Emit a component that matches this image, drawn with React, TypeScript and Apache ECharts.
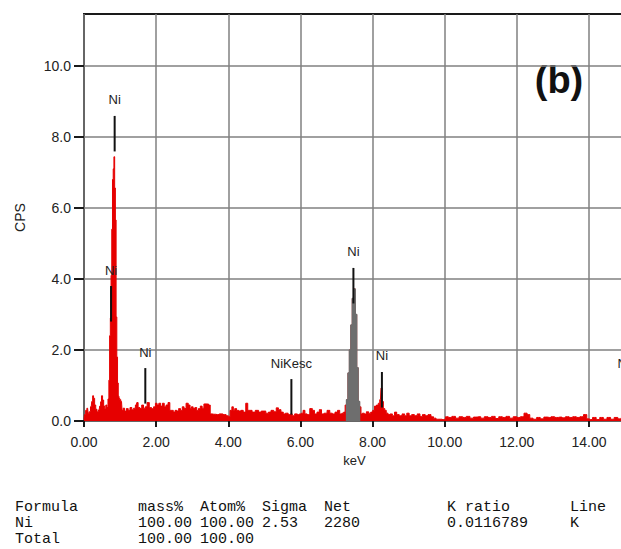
import React, { useEffect, useRef } from "react";
import * as echarts from "echarts";

// EDS spectrum of a Ni sample: energy (keV) vs counts per second, per region
const lowBackground: [number, number][] = [
  [0.0, 0.04], [0.03, 0.18], [0.06, 0.3], [0.1, 0.36], [0.13, 0.22], [0.16, 0.26],
  [0.2, 0.4], [0.23, 0.55], [0.25, 0.71], [0.28, 0.64], [0.31, 0.45], [0.34, 0.33],
  [0.38, 0.26], [0.42, 0.31], [0.45, 0.42], [0.47, 0.54], [0.5, 0.71], [0.53, 0.59],
  [0.56, 0.42], [0.59, 0.34], [0.62, 0.45], [0.65, 0.38],
];

const lPeak: [number, number][] = [
  [0.68, 0.62], [0.7, 1.15], [0.72, 2.4], [0.74, 2.9], [0.76, 4.1], [0.78, 5.4],
  [0.8, 6.8], [0.82, 7.1], [0.84, 7.44], [0.86, 6.56], [0.88, 5.66], [0.9, 2.93],
  [0.92, 1.8], [0.94, 1.07], [0.96, 0.7], [0.98, 0.64], [1.0, 0.6],
];

const midBackground: [number, number][] = [
  [1.04, 0.55], [1.07, 0.3], [1.1, 0.36], [1.15, 0.28], [1.2, 0.35], [1.25, 0.3],
  [1.3, 0.38], [1.35, 0.32], [1.4, 0.36], [1.45, 0.45], [1.48, 0.52], [1.52, 0.38],
  [1.58, 0.35], [1.62, 0.45], [1.68, 0.36], [1.72, 0.4], [1.78, 0.52], [1.84, 0.38],
  [1.9, 0.35], [1.96, 0.4], [2.0, 0.5], [2.05, 0.45], [2.1, 0.5], [2.15, 0.42],
  [2.2, 0.5], [2.25, 0.4], [2.3, 0.45], [2.36, 0.52], [2.4, 0.3], [2.45, 0.3],
  [2.5, 0.25], [2.55, 0.3], [2.6, 0.28], [2.65, 0.35], [2.7, 0.3], [2.75, 0.4],
  [2.8, 0.35], [2.86, 0.5], [2.92, 0.45], [2.96, 0.36], [3.0, 0.4], [3.05, 0.35],
  [3.1, 0.38], [3.15, 0.3], [3.2, 0.35], [3.25, 0.42], [3.3, 0.36], [3.35, 0.48],
  [3.42, 0.48], [3.48, 0.45], [3.52, 0.2], [3.6, 0.19], [3.7, 0.18], [3.8, 0.2],
  [3.9, 0.18], [3.98, 0.15], [4.02, 0.12], [4.08, 0.3], [4.12, 0.4], [4.16, 0.3],
  [4.2, 0.35], [4.26, 0.3], [4.32, 0.28], [4.38, 0.3], [4.45, 0.25], [4.52, 0.5],
  [4.56, 0.3], [4.62, 0.3], [4.7, 0.25], [4.8, 0.3], [4.88, 0.25], [4.95, 0.28],
  [5.0, 0.28], [5.08, 0.22], [5.15, 0.25], [5.22, 0.3], [5.3, 0.26], [5.36, 0.37],
  [5.42, 0.32], [5.5, 0.25], [5.55, 0.2], [5.62, 0.22], [5.7, 0.18], [5.75, 0.2],
  [5.8, 0.15], [5.88, 0.2], [5.95, 0.18], [6.0, 0.2], [6.05, 0.22], [6.1, 0.3],
  [6.15, 0.2], [6.22, 0.18], [6.3, 0.35], [6.36, 0.3], [6.42, 0.2], [6.5, 0.25],
  [6.55, 0.32], [6.62, 0.2], [6.7, 0.22], [6.78, 0.3], [6.85, 0.22], [6.92, 0.2],
  [7.0, 0.25], [7.06, 0.3], [7.12, 0.2], [7.18, 0.22], [7.22, 0.25],
];

// Ni K-alpha window (highlighted region of interest)
const kAlphaPeak: [number, number][] = [
  [7.26, 0.45], [7.3, 0.6], [7.34, 1.35], [7.38, 2.0], [7.42, 2.7], [7.46, 3.45],
  [7.5, 3.72], [7.54, 3.0], [7.58, 1.5], [7.62, 0.55], [7.66, 0.4],
];

const kBetaRegion: [number, number][] = [
  [7.7, 0.2], [7.74, 0.22], [7.8, 0.2], [7.86, 0.26], [7.92, 0.22], [7.98, 0.25],
  [8.03, 0.3], [8.08, 0.42], [8.14, 0.45], [8.18, 0.5], [8.22, 0.6], [8.25, 0.93],
  [8.28, 0.55], [8.32, 0.35], [8.36, 0.3], [8.4, 0.22], [8.46, 0.18], [8.52, 0.2],
  [8.58, 0.15],
];

const tailBackground: [number, number][] = [
  [8.64, 0.25], [8.7, 0.18], [8.78, 0.15], [8.86, 0.2], [8.92, 0.15], [8.98, 0.22],
  [9.05, 0.15], [9.12, 0.18], [9.2, 0.15], [9.28, 0.2], [9.35, 0.13], [9.42, 0.18],
  [9.5, 0.15], [9.58, 0.18], [9.66, 0.12], [9.72, 0.08], [9.8, 0.05], [9.88, 0.05],
  [9.95, 0.04], [10.0, 0.05], [10.05, 0.12], [10.15, 0.1], [10.25, 0.13], [10.35, 0.08],
  [10.45, 0.12], [10.55, 0.1], [10.65, 0.13], [10.75, 0.08], [10.85, 0.11], [10.95, 0.12],
  [11.05, 0.08], [11.15, 0.12], [11.25, 0.1], [11.35, 0.13], [11.45, 0.07], [11.55, 0.12],
  [11.65, 0.1], [11.75, 0.13], [11.85, 0.08], [11.95, 0.12], [12.05, 0.1], [12.15, 0.12],
  [12.25, 0.22], [12.32, 0.18], [12.4, 0.08], [12.5, 0.05], [12.6, 0.1], [12.7, 0.06],
  [12.8, 0.11], [12.9, 0.1], [13.0, 0.12], [13.1, 0.1], [13.2, 0.11], [13.3, 0.09],
  [13.4, 0.12], [13.5, 0.1], [13.6, 0.12], [13.7, 0.1], [13.8, 0.12], [13.9, 0.18],
  [13.98, 0.06], [14.05, 0.04], [14.15, 0.1], [14.25, 0.04], [14.35, 0.1], [14.45, 0.05],
  [14.55, 0.1], [14.65, 0.05], [14.75, 0.1], [14.85, 0.06], [14.95, 0.1], [15.0, 0.05],
];

// Line identification markers
const markerEnergies = [0.75, 0.85, 1.7, 5.75, 7.47, 8.26, 14.96];
const markerTops = [3.8, 8.59, 1.49, 1.18, 4.31, 1.38, 1.18];
const markerLabels = ["Ni", "Ni", "Ni", "NiKesc", "Ni", "Ni", "Ni"];

// Axis ticks
const xTicks = [0, 2, 4, 6, 8, 10, 12, 14];
const yTicks = [0, 2, 4, 6, 8, 10];

// Quantification table
const tableHeader = ["Formula", "mass%", "Atom%", "Sigma", "Net", "K ratio", "Line"];
const niRow = ["Ni", "100.00", "100.00", "2.53", "2280", "0.0116789", "K"];
const totalRow = ["Total", "100.00", "100.00"];

const MARKER_LENGTH = 1.0;
const tableColumnX = [15, 138, 200, 262, 324, 447, 570];
const tableRowY = [507, 523, 539];

// The plot frame runs slightly past the visible page on the right
const CHART_WIDTH = 632;
const PLOT_RIGHT_EDGE = 625;

export default function App() {
  const ref = useRef<HTMLDivElement>(null);

  useEffect(() => {
    if (!ref.current) return;
    const chart = echarts.init(ref.current, null, { renderer: "svg" });

    const spectrum = [
      ...lowBackground,
      ...lPeak,
      ...midBackground,
      ...kAlphaPeak,
      ...kBetaRegion,
      ...tailBackground,
    ];
    const markers = markerEnergies.map((e, i) => [e, markerTops[i]]);

    const tableTexts: any[] = [];
    [tableHeader, niRow, totalRow].forEach((row, r) => {
      row.forEach((cell, c) => {
        tableTexts.push({
          type: "text",
          x: tableColumnX[c],
          y: tableRowY[r],
          style: {
            text: cell,
            fill: "#111",
            fontFamily: '"Liberation Mono", "Courier New", monospace',
            fontSize: 15,
            lineHeight: 15,
            align: "left",
            verticalAlign: "middle",
          },
        });
      });
    });

    const axisFont = { fontFamily: "Arial, 'Liberation Sans', sans-serif", fontSize: 14, color: "#222" };

    chart.setOption({
      animation: false,
      backgroundColor: "#ffffff",
      grid: {
        left: 84,
        top: 14,
        right: CHART_WIDTH - PLOT_RIGHT_EDGE,
        bottom: 128,
        show: true,
        borderColor: "#1a1a1a",
        borderWidth: 2,
        backgroundColor: "transparent",
      },
      xAxis: {
        type: "value",
        min: 0,
        max: 15,
        interval: 2,
        name: "keV",
        nameLocation: "middle",
        nameGap: 33,
        nameTextStyle: { ...axisFont, fontSize: 13 },
        axisLine: { show: false },
        axisTick: {
          show: true,
          length: 6,
          customValues: xTicks,
          lineStyle: { color: "#1a1a1a", width: 2 },
        },
        axisLabel: {
          ...axisFont,
          margin: 14,
          customValues: xTicks,
          formatter: (v: number) => v.toFixed(2),
        },
        splitLine: { show: true, lineStyle: { color: "#808080", width: 1.5 } },
      },
      yAxis: {
        type: "value",
        min: 0,
        max: 11.46,
        interval: 2,
        name: "CPS",
        nameLocation: "middle",
        nameRotate: 90,
        nameGap: 57,
        nameTextStyle: { ...axisFont, fontSize: 14 },
        axisLine: { show: false },
        axisTick: {
          show: true,
          length: 10,
          customValues: yTicks,
          lineStyle: { color: "#1a1a1a", width: 2 },
        },
        axisLabel: {
          ...axisFont,
          margin: 13,
          customValues: yTicks,
          formatter: (v: number) => v.toFixed(1),
        },
        splitLine: { show: true, lineStyle: { color: "#808080", width: 1.5 } },
      },
      series: [
        {
          type: "line",
          name: "spectrum",
          data: spectrum,
          step: "middle",
          symbol: "none",
          lineStyle: { color: "#e60000", width: 1 },
          areaStyle: { color: "#e60000", opacity: 1 },
          z: 2,
        },
        {
          type: "line",
          name: "Ni K\u03b1 ROI",
          data: kAlphaPeak,
          step: "middle",
          symbol: "none",
          lineStyle: { color: "#6e6e6e", width: 1.5 },
          areaStyle: { color: "#6e6e6e", opacity: 1 },
          z: 3,
        },
        {
          type: "custom",
          name: "lines",
          data: markers,
          clip: false,
          z: 5,
          renderItem: (params: any, api: any) => {
            const e = api.value(0);
            const top = api.value(1);
            const p1 = api.coord([e, top]);
            const p2 = api.coord([e, top - MARKER_LENGTH]);
            return {
              type: "group",
              children: [
                {
                  type: "line",
                  shape: { x1: p1[0], y1: p1[1], x2: p2[0], y2: p2[1] },
                  style: { stroke: "#111", lineWidth: 2 },
                },
                {
                  type: "text",
                  x: p1[0],
                  y: p1[1] - 16,
                  style: {
                    text: markerLabels[params.dataIndex],
                    fill: "#222",
                    font: "13px Arial, 'Liberation Sans', sans-serif",
                    align: "center",
                    verticalAlign: "middle",
                  },
                },
              ],
            };
          },
        },
      ],
      graphic: [
        {
          type: "text",
          x: 559,
          y: 80,
          style: {
            text: "(b)",
            fill: "#111",
            font: "bold 38px Arial, 'Liberation Sans', sans-serif",
            align: "center",
            verticalAlign: "middle",
          },
        },
        ...tableTexts,
      ],
    });

    return () => chart.dispose();
  }, []);

  return (
    <div
      style={{
        position: "absolute",
        left: 0,
        top: 0,
        width: 621,
        height: 549,
        overflow: "hidden",
        background: "#fff",
      }}
    >
      <div ref={ref} style={{ width: CHART_WIDTH, height: 549 }} />
    </div>
  );
}
